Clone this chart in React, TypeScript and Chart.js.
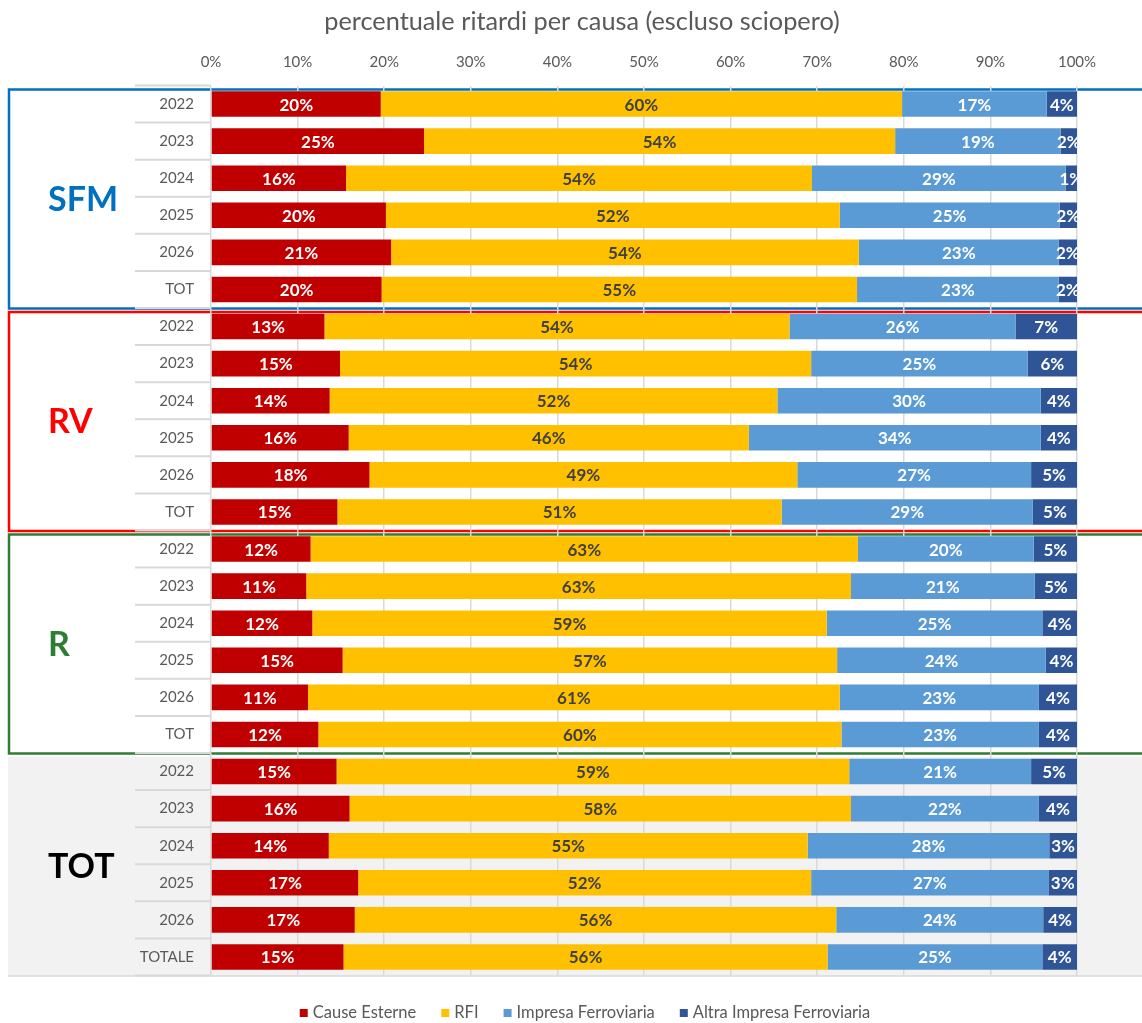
import React, { useEffect, useRef } from 'react';
import { Chart, registerables } from 'chart.js';

Chart.register(...registerables);

// ---------- DATA ----------
const categories = [
  '2022', '2023', '2024', '2025', '2026', 'TOT',
  '2022', '2023', '2024', '2025', '2026', 'TOT',
  '2022', '2023', '2024', '2025', '2026', 'TOT',
  '2022', '2023', '2024', '2025', '2026', 'TOTALE',
];
const groupNames = ['SFM', 'RV', 'R', 'TOT'];
const groupSizes = [6, 6, 6, 6];
const seriesNames = ['Cause Esterne', 'RFI', 'Impresa Ferroviaria', 'Altra Impresa Ferroviaria'];

const causeEsterne = [
  19.6, 24.6, 15.6, 20.2, 20.8, 19.7,
  13.1, 14.9, 13.7, 15.9, 18.3, 14.6,
  11.5, 11.0, 11.7, 15.2, 11.2, 12.4,
  14.5, 16.0, 13.6, 17.0, 16.6, 15.3,
];
const rfi = [
  60.2, 54.4, 53.8, 52.4, 54.0, 54.9,
  53.7, 54.4, 51.7, 46.2, 49.4, 51.3,
  63.2, 62.9, 59.4, 57.1, 61.4, 60.4,
  59.2, 57.9, 55.3, 52.3, 55.6, 55.9,
];
const impresaFerroviaria = [
  16.7, 19.1, 29.3, 25.4, 23.1, 23.3,
  26.1, 25.0, 30.4, 33.7, 27.0, 29.0,
  20.3, 21.2, 24.9, 24.1, 23.0, 22.8,
  21.0, 21.7, 27.9, 27.4, 23.9, 24.8,
];
const altraImpresa = [
  3.5, 1.9, 1.3, 2.0, 2.1, 2.1,
  7.1, 5.7, 4.2, 4.2, 5.3, 5.1,
  5.0, 4.9, 4.0, 3.6, 4.4, 4.4,
  5.3, 4.4, 3.2, 3.3, 3.9, 4.0,
];
const titleText = 'percentuale ritardi per causa (escluso sciopero)';

// ---------- STYLES ----------
const seriesColors = ['#C00000', '#FFC000', '#5B9BD5', '#2F5597'];
const labelColors = ['#FFFFFF', '#404040', '#FFFFFF', '#FFFFFF'];
const groupColors = ['#0070C0', '#FF0000', '#2E7D32', '#000000'];
const FONT = 'Lato, "Noto Sans", sans-serif';

const decorPlugin = {
  id: 'decor',
  beforeDraw(chart: any) {
    const { ctx, scales } = chart;
    const y = scales.y;
    const half = (y.getPixelForValue(1) - y.getPixelForValue(0)) / 2;
    const W = chart.width;
    ctx.save();
    let start = 0;
    groupSizes.forEach((n, gi) => {
      const bandTop = y.getPixelForValue(start) - half;
      const bandBottom = y.getPixelForValue(start + n - 1) + half;
      const top = bandTop + 4;
      const bottom = bandBottom + 0.5;
      if (gi === groupSizes.length - 1) {
        ctx.fillStyle = '#F2F2F2';
        ctx.fillRect(8, top, W - 8, bottom - top);
        ctx.strokeStyle = '#D9D9D9';
        ctx.lineWidth = 1.5;
        ctx.beginPath();
        ctx.moveTo(8, bottom);
        ctx.lineTo(W, bottom);
        ctx.stroke();
      } else {
        ctx.strokeStyle = groupColors[gi];
        ctx.lineWidth = 2.5;
        ctx.strokeRect(9, top, W + 20, bottom - top);
      }
      start += n;
    });
    // category separators in label column
    ctx.strokeStyle = '#D9D9D9';
    ctx.lineWidth = 2;
    for (let i = 0; i <= categories.length; i++) {
      const yy = y.getPixelForValue(i) - half;
      ctx.beginPath();
      ctx.moveTo(135, yy);
      ctx.lineTo(chart.chartArea.left, yy);
      ctx.stroke();
    }
    ctx.restore();
  },
  afterDatasetsDraw(chart: any) {
    const { ctx, chartArea } = chart;
    ctx.save();
    ctx.beginPath();
    ctx.rect(chartArea.left, chartArea.top, chartArea.right - chartArea.left, chartArea.bottom - chartArea.top);
    ctx.clip();
    ctx.font = `bold 17px ${FONT}`;
    ctx.textAlign = 'center';
    ctx.textBaseline = 'middle';
    chart.data.datasets.forEach((ds: any, di: number) => {
      const meta = chart.getDatasetMeta(di);
      meta.data.forEach((bar: any, i: number) => {
        const v = ds.data[i];
        const cx = (bar.x + bar.base) / 2;
        ctx.fillStyle = labelColors[di];
        ctx.fillText(Math.round(v) + '%', cx, bar.y + 1);
      });
    });
    ctx.restore();
  },
  afterDraw(chart: any) {
    const { ctx, scales } = chart;
    const y = scales.y;
    const half = (y.getPixelForValue(1) - y.getPixelForValue(0)) / 2;
    ctx.save();
    // group labels
    ctx.font = `bold 34px ${FONT}`;
    ctx.textAlign = 'left';
    ctx.textBaseline = 'alphabetic';
    let start = 0;
    groupSizes.forEach((n, gi) => {
      const top = y.getPixelForValue(start) - half;
      const bottom = y.getPixelForValue(start + n - 1) + half;
      const mid = (top + bottom) / 2;
      ctx.fillStyle = groupColors[gi];
      ctx.fillText(groupNames[gi], 48, mid + 14);
      start += n;
    });
    // title
    ctx.font = `25.3px ${FONT}`;
    ctx.fillStyle = '#595959';
    ctx.textAlign = 'center';
    ctx.textBaseline = 'middle';
    ctx.fillText(titleText, 582, 22);
    // legend
    ctx.font = `16.5px ${FONT}`;
    const box = 8, gapBT = 5, gapItems = 25;
    const widths = seriesNames.map((s) => ctx.measureText(s).width);
    const total = widths.reduce((a, w) => a + box + gapBT + w, 0) + gapItems * (seriesNames.length - 1);
    let x = 585 - total / 2;
    const ly = 1013;
    ctx.textAlign = 'left';
    seriesNames.forEach((s, i) => {
      ctx.fillStyle = seriesColors[i];
      ctx.fillRect(x, ly - 4, box, box);
      ctx.fillStyle = '#595959';
      ctx.fillText(s, x + box + gapBT, ly);
      x += box + gapBT + widths[i] + gapItems;
    });
    ctx.restore();
  },
};

export default function App() {
  const ref = useRef<HTMLCanvasElement | null>(null);
  useEffect(() => {
    if (!ref.current) return;
    Chart.defaults.font.family = FONT;
    const seriesData = [causeEsterne, rfi, impresaFerroviaria, altraImpresa];
    const chart = new Chart(ref.current, {
      type: 'bar',
      data: {
        labels: categories,
        datasets: seriesNames.map((name, i) => ({
          label: name,
          data: seriesData[i],
          backgroundColor: seriesColors[i],
          borderWidth: 0,
          barPercentage: 0.69,
          categoryPercentage: 1,
          xAxisID: 'x',
          yAxisID: 'y',
        })),
      },
      options: {
        responsive: false,
        animation: false,
        devicePixelRatio: 1,
        indexAxis: 'y',
        layout: { padding: { left: 28, right: 0, top: 40, bottom: 47.5 } },
        plugins: {
          legend: { display: false },
          title: { display: false },
          tooltip: { enabled: false },
        },
        scales: {
          x: {
            type: 'linear',
            position: 'top',
            stacked: true,
            min: 0,
            max: 100,
            ticks: {
              stepSize: 10,
              callback: (v: any) => v + '%',
              color: '#595959',
              font: { size: 15 },
              padding: 14,
            },
            grid: { color: '#D9D9D9', lineWidth: 1.5, drawTicks: false },
            border: { display: false },
            afterFit: (s: any) => { s.height = 45.5; },
          },
          y: {
            type: 'category',
            stacked: true,
            ticks: { autoSkip: false, color: '#595959', font: { size: 15 }, padding: 17 },
            grid: { display: false, drawTicks: false },
            border: { display: false },
            afterFit: (s: any) => { s.width = 183; },
          },
          pad: {
            type: 'linear',
            position: 'right',
            display: true,
            grid: { display: false, drawTicks: false },
            ticks: { display: false },
            border: { display: false },
            afterFit: (s: any) => { s.width = 65; },
          },
        } as any,
      },
      plugins: [decorPlugin],
    } as any);
    return () => chart.destroy();
  }, []);
  return (
    <div style={{ position: 'fixed', left: 0, top: 0, width: 1142, height: 1023 }}>
      <canvas ref={ref} width={1142} height={1023} style={{ display: 'block' }} />
    </div>
  );
}
